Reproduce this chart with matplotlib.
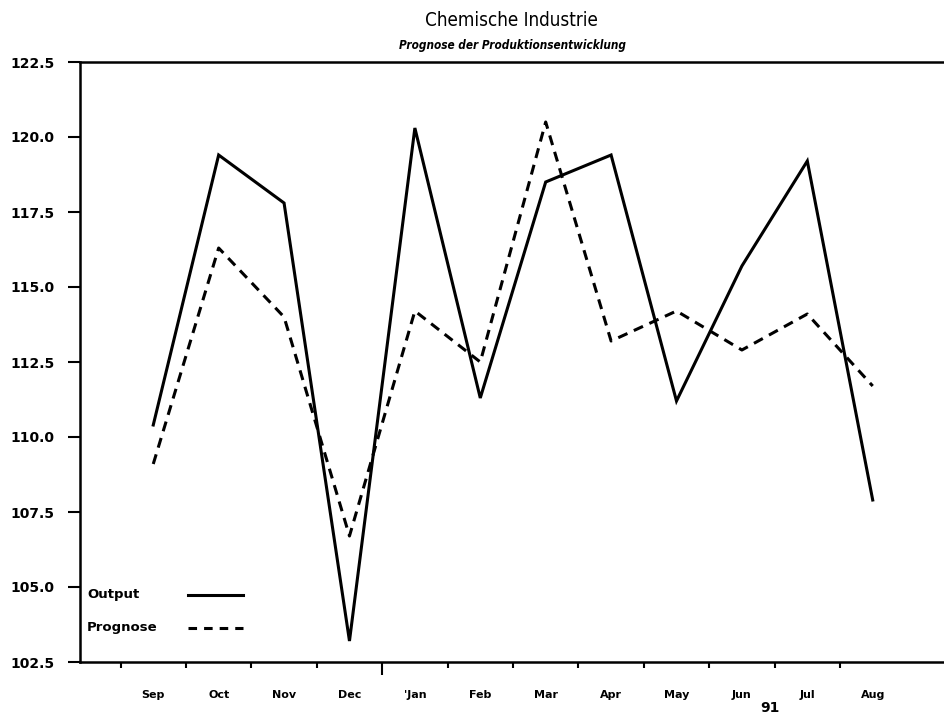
import matplotlib
matplotlib.use("Agg")
import matplotlib.pyplot as plt
import numpy as np

# Monthly values, Sep 90 - Aug 91
months = ["Sep", "Oct", "Nov", "Dec", "'Jan", "Feb", "Mar", "Apr", "May", "Jun", "Jul", "Aug"]
output = [110.4, 119.4, 117.8, 103.2, 120.3, 111.3, 118.5, 119.4, 111.2, 115.7, 119.2, 107.9]
prognose = [109.1, 116.3, 114.0, 106.7, 114.2, 112.5, 120.5, 113.2, 114.2, 112.9, 114.1, 111.7]
yticks = [102.5, 105.0, 107.5, 110.0, 112.5, 115.0, 117.5, 120.0, 122.5]

fig = plt.figure(figsize=(9.44, 7.19), dpi=100)
ax = fig.add_axes([80 / 944, 1 - 662 / 719, 1 - 80 / 944, 600 / 719])

x = np.arange(len(months))
ax.plot(x, output, color="black", lw=2.2, solid_joinstyle="miter")
ax.plot(x, prognose, color="black", lw=2.2, linestyle=(0, (3.3, 2.3)))

ax.set_xlim(-1.12, 12.09)
ax.set_ylim(102.5, 122.5)

# y axis
ax.set_yticks(yticks)
ax.set_yticklabels([f"{v:.1f}" for v in yticks], fontsize=10, fontweight="bold")
ax.tick_params(axis="y", direction="out", length=8.5, width=1.5, pad=10)

# x axis: labels at months, small ticks between months
ax.set_xticks(x)
ax.set_xticklabels(months, fontsize=8, fontweight="bold")
ax.tick_params(axis="x", which="major", length=0, pad=20)
ax.set_xticks(x - 0.5, minor=True)
ax.tick_params(axis="x", which="minor", direction="out", length=4, width=1.5)
# year boundary (Dec/Jan) gets a longer tick
ax.xaxis.get_minor_ticks()[4].tick1line.set_markersize(9)

for side in ["left", "bottom", "top"]:
    ax.spines[side].set_linewidth(1.8)
ax.spines["right"].set_visible(False)

# year label under the axis
ax.text(9.43, -0.077, "91", transform=ax.get_xaxis_transform(),
        ha="center", va="center", fontsize=10, fontweight="bold")

# legend: label first, then line sample
ax.text(0.008, 0.112, "Output", transform=ax.transAxes, ha="left", va="center",
        fontsize=9.5, fontweight="bold")
ax.text(0.008, 0.057, "Prognose", transform=ax.transAxes, ha="left", va="center",
        fontsize=9.5, fontweight="bold")
ax.plot([0.125, 0.189], [0.112, 0.112], transform=ax.transAxes, color="black", lw=2.2)
ax.plot([0.125, 0.189], [0.057, 0.057], transform=ax.transAxes, color="black", lw=2.2,
        linestyle=(0, (2.8, 2.3)))

# titles
fig.text(0.542, 0.972, "Chemische Industrie", ha="center", va="center",
         fontsize=13.5, fontstretch="condensed")
fig.text(0.543, 0.937, "Prognose der Produktionsentwicklung", ha="center", va="center",
         fontsize=8.5, fontweight="bold", style="italic", fontstretch="condensed")

fig.savefig("out.png", dpi=100)
